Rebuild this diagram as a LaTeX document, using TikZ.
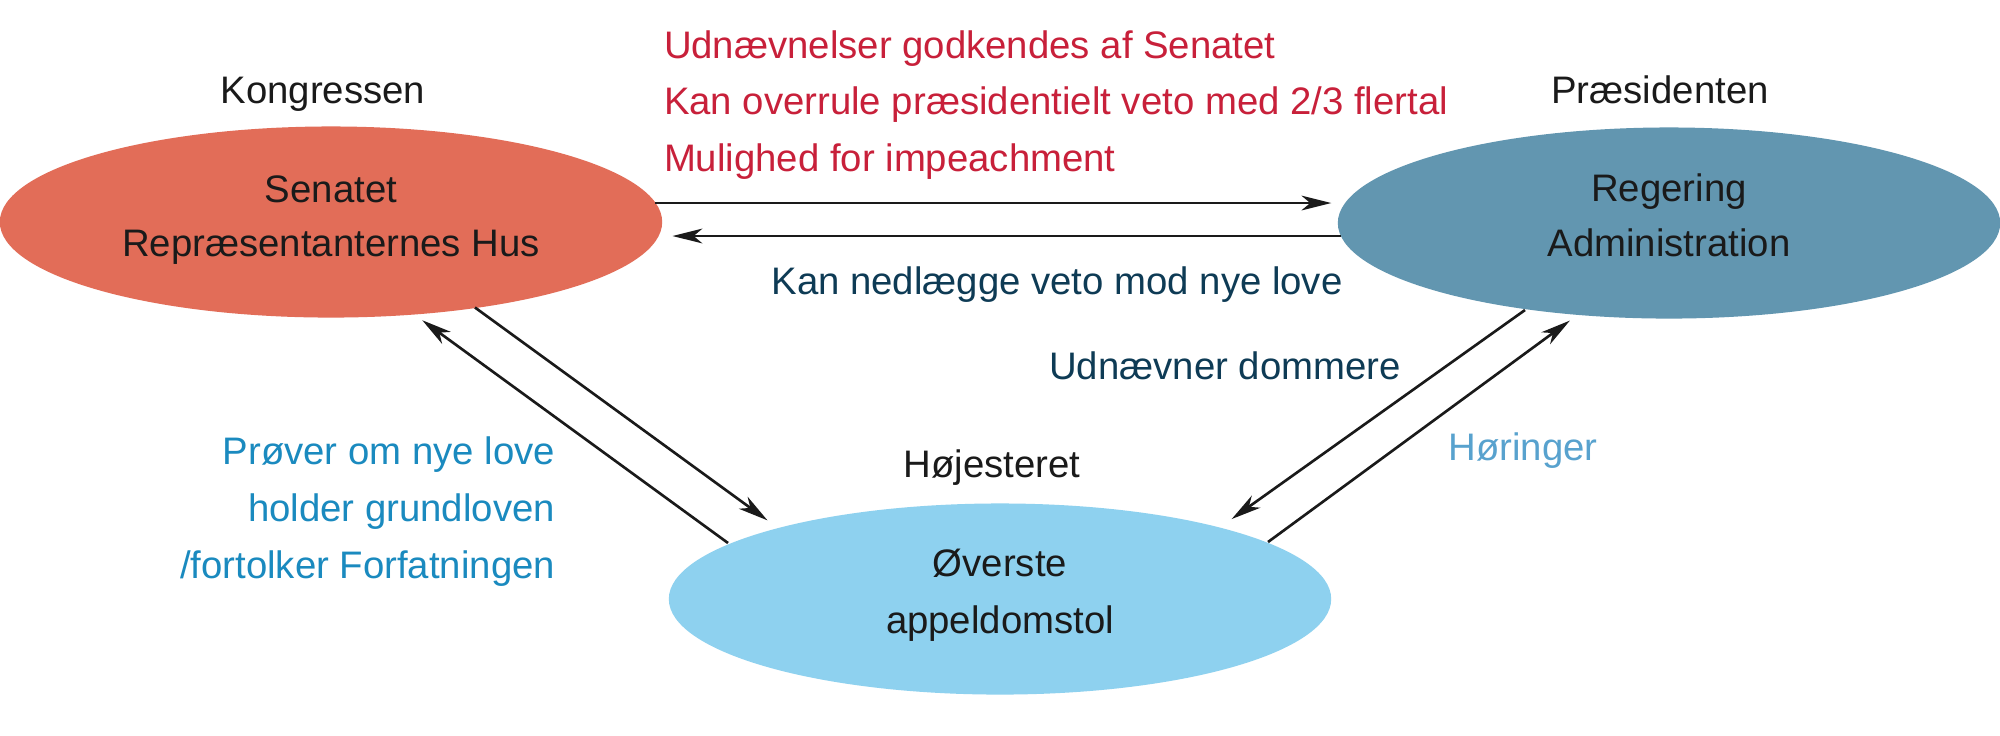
\documentclass[tikz,border=0pt]{standalone}
\usepackage{fontspec}
\setmainfont{Liberation Sans}
\usetikzlibrary{shapes.geometric,arrows.meta,calc}
\definecolor{kongred}{HTML}{E26D58}
\definecolor{presblue}{HTML}{6296B0}
\definecolor{courtblue}{HTML}{8ED1EF}
\definecolor{redtext}{HTML}{C8203A}
\definecolor{darkteal}{HTML}{0E3B55}
\definecolor{midblue}{HTML}{1A8ABF}
\definecolor{lightbluetext}{HTML}{58A2CE}
\definecolor{inktext}{HTML}{1A1A1A}
\begin{document}
\begin{tikzpicture}[x=0.01cm,y=-0.01cm,
  txt/.style={font=\fontsize{10.9}{16.3}\selectfont, inner sep=0pt, outer sep=0pt},
  branch/.style={txt, ellipse, minimum width=6.62cm, minimum height=1.91cm, align=center, text=inktext},
  conn/.style={draw=inktext, line width=0.75pt, -{Stealth[length=8.5pt,width=4.2pt,inset=2.5pt]}, shorten >=4pt}
]
\fill[white] (0,0) rectangle (2000,735);
\useasboundingbox (0,0) rectangle (2000,735);

\node[branch, fill=kongred, font=\fontsize{10.9}{15.4}\selectfont] (kon) at (331,222) {Senatet\\Repræsentanternes Hus\rule[-3.4pt]{0pt}{1pt}};
\node[branch, fill=presblue, font=\fontsize{10.9}{15.4}\selectfont] (pres) at (1669,223) {Regering\\Administration\rule[-4.5pt]{0pt}{1pt}};
\node[branch, fill=courtblue] (court) at (1000,599) {Øverste\\appeldomstol\rule[-4.5pt]{0pt}{1pt}};

\node[txt, anchor=base, text=inktext] (konlab) at (323,103) {Kongressen};
\node[txt, anchor=base, text=inktext] (preslab) at (1660,103) {Præsidenten};
\node[txt, anchor=base, text=inktext] (courtlab) at (992,477) {Højesteret};

\node[txt, anchor=west, align=left, text=redtext, font=\fontsize{10.9}{16.1}\selectfont] (checks) at (664,104.75)
  {Udnævnelser godkendes af Senatet\\Kan overrule præsidentielt veto med 2/3 flertal\\Mulighed for impeachment};
\node[txt, anchor=base, text=darkteal] (veto) at (1057,294) {Kan nedlægge veto mod nye love};
\node[txt, anchor=base, text=darkteal] (appoint) at (1225,379) {Udnævner dommere};
\node[txt, anchor=base, text=lightbluetext] (hear) at (1523,460) {Høringer};
\node[txt, anchor=east, align=right, text=midblue] (review) at (555,511.5)
  {Prøver om nye love\\holder grundloven\\/fortolker Forfatningen};

\draw[conn] ($(kon.center)+(324.3,-19)$) -- ($(pres.center)+(-323.6,-20)$);
\draw[conn] ($(pres.center)+(-327.9,13)$) -- ($(kon.center)+(327.4,14)$);
\draw[conn, shorten >=3.7pt] ($(kon.center)+(144,85.5)$) -- ($(court.center)+(-222,-71)$);
\draw[conn, shorten >=3pt] ($(court.center)+(-272,-56)$) -- ($(kon.center)+(82.7,92)$);
\draw[conn] ($(pres.center)+(-144,87)$) -- ($(court.center)+(220.2,-71.8)$);
\draw[conn, shorten >=3pt] ($(court.center)+(268,-57)$) -- ($(pres.center)+(-90.6,91.3)$);
\end{tikzpicture}
\end{document}
